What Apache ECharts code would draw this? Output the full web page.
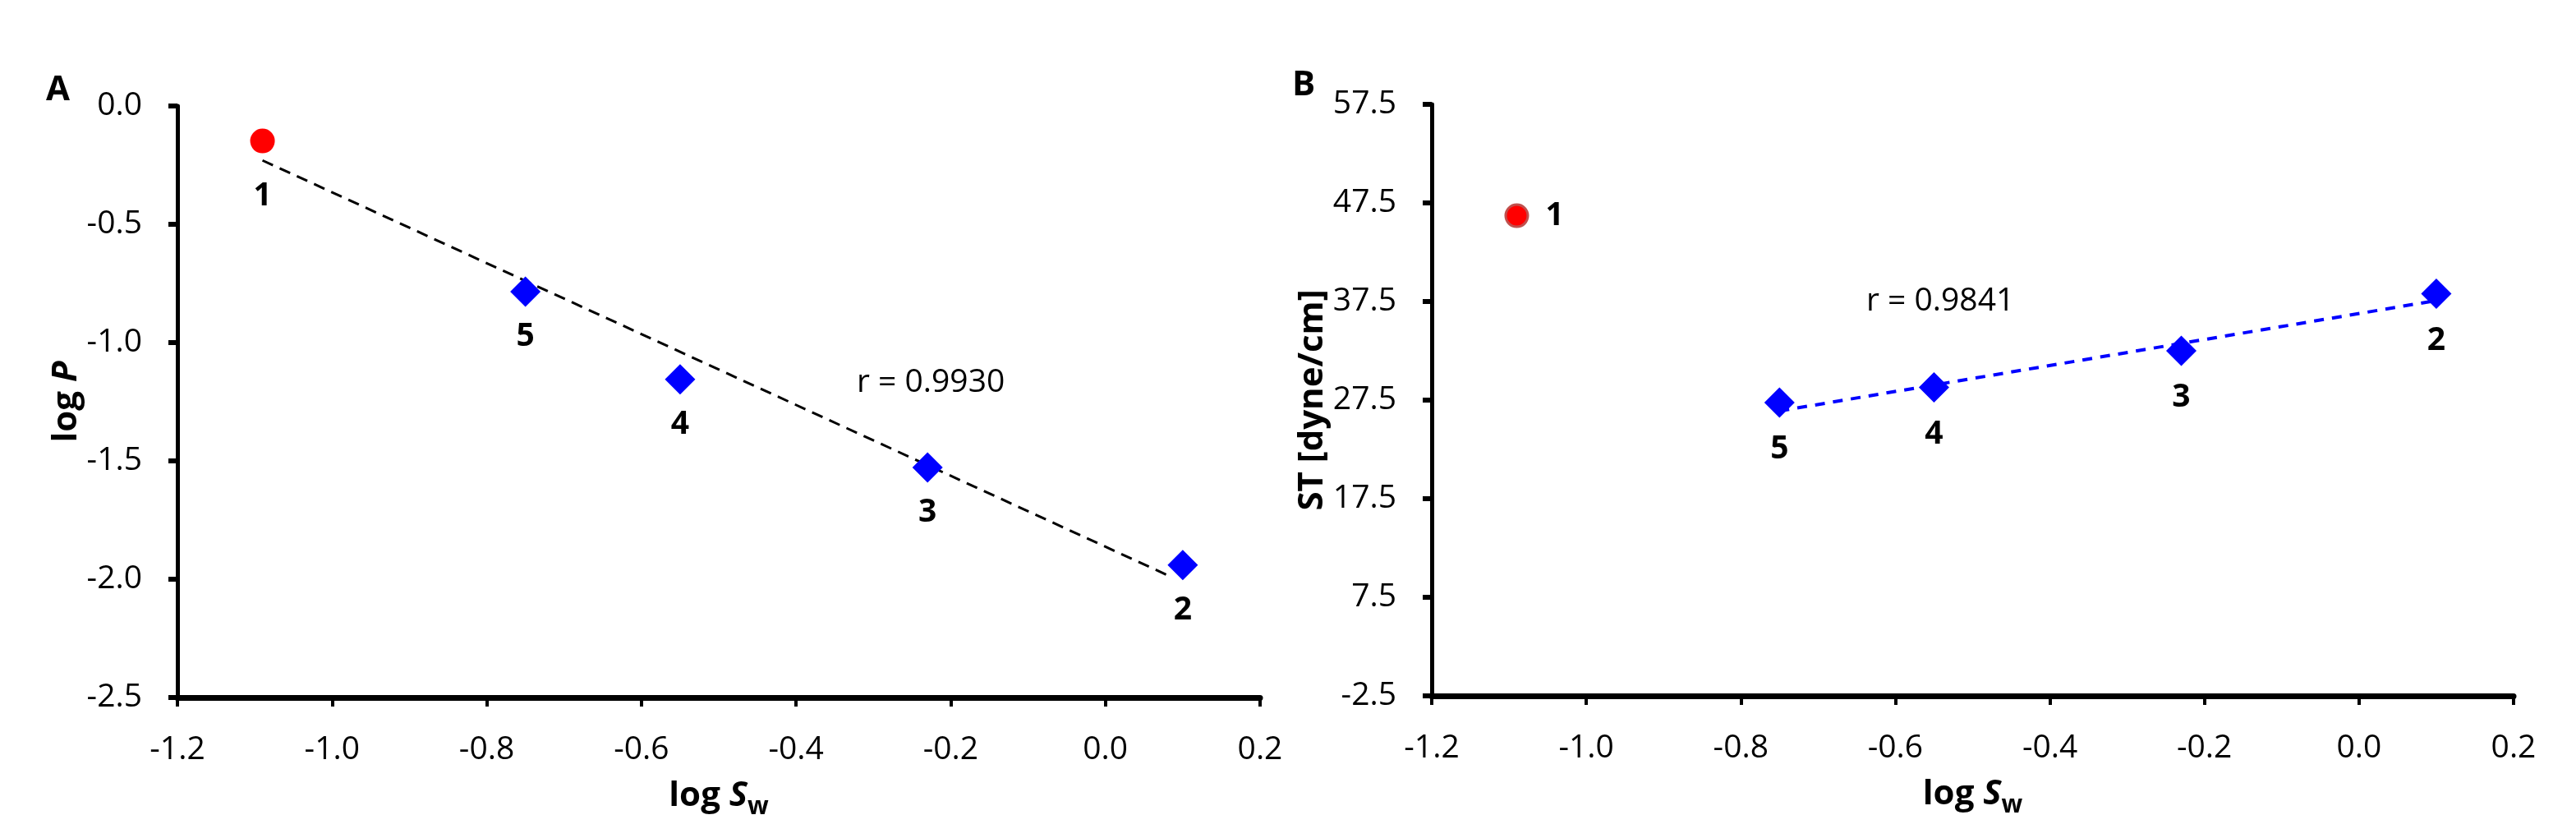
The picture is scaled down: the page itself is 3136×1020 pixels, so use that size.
<!DOCTYPE html>
<html>
<head>
<meta charset="utf-8">
<title>log P and ST vs log Sw</title>
<script src="https://cdn.jsdelivr.net/npm/echarts@6/dist/echarts.min.js"></script>
<style>
  html, body { margin: 0; padding: 0; background: #fff; }
  #chart { width: 3136px; height: 1020px; }
</style>
</head>
<body>
<div id="chart"></div>
<script>
// compound numbers, log Sw is shared by both panels
const compounds = ['1', '2', '3', '4', '5']
const logSw = [-1.09, 0.10, -0.23, -0.55, -0.75]
// panel A
const logP = [-0.148, -1.94, -1.528, -1.155, -0.785]
// panel B, surface tension
const surfTension = [46.2, 38.3, 32.5, 28.8, 27.25]
// dashed fit lines (ends)
const fitA = [[-1.09, -0.23], [0.085, -1.99]]
const fitB = [[-0.75, 26.4], [0.10, 37.6]]
const corrA = 'r = 0.9930'
const corrB = 'r = 0.9841'
// axis ranges
const xRange = [-1.2, 0.2, 0.2]
const yRangeA = [-2.5, 0, 0.5]
const yRangeB = [-2.5, 57.5, 10]

const FONT = "'Open Sans', sans-serif"

var chart = echarts.init(document.getElementById('chart'))

function points(ys, from, to) {
  const out = []
  for (let i = from; i < to; i++) {
    out.push({ name: compounds[i], value: [logSw[i], ys[i]] })
  }
  return out
}

function fmt(v) {
  if (Math.abs(v) < 1e-9) v = 0
  return v.toFixed(1)
}

function axisCommon(range, gridIndex) {
  return {
    type: 'value',
    gridIndex: gridIndex,
    min: range[0],
    max: range[1],
    interval: range[2],
    splitLine: { show: false },
    axisLabel: { fontSize: 39, color: '#000', fontFamily: FONT, formatter: fmt },
    nameLocation: 'middle'
  }
}

function xAxis(gridIndex) {
  const a = axisCommon(xRange, gridIndex)
  a.axisLine = { show: true, onZero: false, lineStyle: { color: '#000', width: 7 } }
  a.axisTick = { show: true, length: 11, lineStyle: { color: '#000', width: 4 } }
  a.axisLabel.margin = 44
  a.name = '{a|log }{b|S}{c|w}'
  a.nameGap = 92
  a.nameTextStyle = {
    rich: {
      a: { fontSize: 42, fontWeight: 'bold', fontFamily: FONT, color: '#000', lineHeight: 56 },
      b: { fontSize: 42, fontWeight: 'bold', fontStyle: 'italic', fontFamily: FONT, color: '#000', lineHeight: 56 },
      c: { fontSize: 30, fontWeight: 'bold', fontFamily: FONT, color: '#000', lineHeight: 30, verticalAlign: 'bottom' }
    }
  }
  return a
}

function yAxis(range, gridIndex, name, gap) {
  const a = axisCommon(range, gridIndex)
  a.axisLine = { show: true, onZero: false, lineStyle: { color: '#000', width: 5 } }
  a.axisTick = { show: true, length: 11, lineStyle: { color: '#000', width: 6 } }
  a.axisLabel.margin = 43
  a.name = name
  a.nameGap = gap
  a.nameTextStyle = {
    rich: {
      a: { fontSize: 42, fontWeight: 'bold', fontFamily: FONT, color: '#000' },
      b: { fontSize: 42, fontWeight: 'bold', fontStyle: 'italic', fontFamily: FONT, color: '#000' }
    }
  }
  return a
}

const labelStyle = { show: true, formatter: '{b}', color: '#000', fontSize: 39, fontWeight: 'bold', fontFamily: FONT }

chart.setOption({
  animation: false,
  backgroundColor: '#fff',
  grid: [
    { left: 216, top: 129, width: 1318, height: 720 },
    { left: 1743, top: 127, width: 1317, height: 720 }
  ],
  xAxis: [xAxis(0), xAxis(1)],
  yAxis: [
    yAxis(yRangeA, 0, '{a|log }{b|P}', 110),
    yAxis(yRangeB, 1, '{a|ST [dyne/cm]}', 122)
  ],
  graphic: [
    { type: 'text', x: 56, y: 110, style: { text: 'A', font: 'bold 42px ' + FONT, fill: '#000', verticalAlign: 'middle' } },
    { type: 'text', x: 1573, y: 104, style: { text: 'B', font: 'bold 42px ' + FONT, fill: '#000', verticalAlign: 'middle' } },
    { type: 'text', x: 1043, y: 466, style: { text: corrA, font: '39px ' + FONT, fill: '#000', verticalAlign: 'middle' } },
    { type: 'text', x: 2272, y: 367, style: { text: corrB, font: '39px ' + FONT, fill: '#000', verticalAlign: 'middle' } }
  ],
  series: [
    {
      type: 'line',
      xAxisIndex: 0,
      yAxisIndex: 0,
      data: fitA,
      symbol: 'none',
      z: 1,
      lineStyle: { color: '#000', width: 3, type: [14, 9] }
    },
    {
      type: 'scatter',
      xAxisIndex: 0,
      yAxisIndex: 0,
      data: points(logP, 0, 1),
      symbol: 'circle',
      symbolSize: 30,
      itemStyle: { color: '#ff0000', opacity: 1 },
      label: Object.assign({}, labelStyle, { position: 'bottom', distance: 33 })
    },
    {
      type: 'scatter',
      xAxisIndex: 0,
      yAxisIndex: 0,
      data: points(logP, 1, 5),
      symbol: 'diamond',
      symbolSize: 37,
      itemStyle: { color: '#0000ff', opacity: 1 },
      label: Object.assign({}, labelStyle, { position: 'bottom', distance: 17 })
    },
    {
      type: 'line',
      xAxisIndex: 1,
      yAxisIndex: 1,
      data: fitB,
      symbol: 'none',
      z: 1,
      lineStyle: { color: '#0000ff', width: 4, type: [12, 10] }
    },
    {
      type: 'scatter',
      xAxisIndex: 1,
      yAxisIndex: 1,
      data: points(surfTension, 0, 1),
      symbol: 'circle',
      symbolSize: 27,
      itemStyle: { color: '#ff0000', borderColor: '#c0504d', borderWidth: 3, opacity: 1 },
      label: Object.assign({}, labelStyle, { position: 'right', distance: 20 })
    },
    {
      type: 'scatter',
      xAxisIndex: 1,
      yAxisIndex: 1,
      data: points(surfTension, 1, 5),
      symbol: 'diamond',
      symbolSize: 37,
      itemStyle: { color: '#0000ff', opacity: 1 },
      label: Object.assign({}, labelStyle, { position: 'bottom', distance: 19 })
    }
  ]
})
</script>
</body>
</html>
